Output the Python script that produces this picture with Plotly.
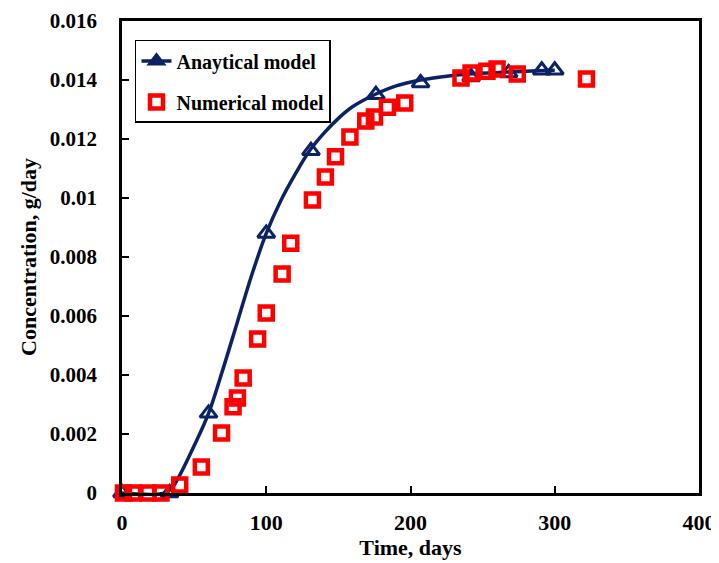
import plotly.graph_objects as go

# Analytical model: smooth curve and triangle markers
curve_t = [0, 30, 35, 40, 50, 60, 70, 80, 90, 100, 110, 120, 130, 140, 150, 160, 175, 190, 207, 225, 240, 260, 280, 300]
curve_c = [0, 0, 0.0002, 0.0006, 0.0016, 0.0027, 0.0042, 0.0058, 0.0074, 0.0088, 0.0099, 0.0108, 0.0116, 0.0122,
           0.0127, 0.0131, 0.0135, 0.0138, 0.0140, 0.01413, 0.0142, 0.01425, 0.0143, 0.01433]

anal_t = [0, 33, 60, 100, 131, 176, 207, 242, 268, 291, 300]
anal_c = [0, 0, 0.0027, 0.0088, 0.0116, 0.0135, 0.0139, 0.0141, 0.01424, 0.01433, 0.01433]

# Numerical model
num_t = [1, 8, 18, 27, 40, 55, 69, 77, 80, 84, 94, 100, 111, 117, 132, 141, 148, 158, 169, 175, 184, 196,
         235, 242, 253, 260, 274, 322]
num_c = [0, 0, 0, 0, 0.00027, 0.00088, 0.00203, 0.00292, 0.00322, 0.0039, 0.00522, 0.0061, 0.00742, 0.00847,
         0.00993, 0.01071, 0.0114, 0.01207, 0.01261, 0.01275, 0.01308, 0.01322, 0.01407, 0.01424, 0.0143,
         0.01437, 0.0142, 0.01403]

x_ticks = [0, 100, 200, 300, 400]
y_ticks = [0, 0.002, 0.004, 0.006, 0.008, 0.01, 0.012, 0.014, 0.016]
y_tick_text = ["0", "0.002", "0.004", "0.006", "0.008", "0.01", "0.012", "0.014", "0.016"]

NAVY = "#0b2265"
RED = "#ff0000"
FONT = "Liberation Serif"

fig = go.Figure()

fig.add_trace(go.Scatter(
    x=curve_t, y=curve_c, mode="lines", line=dict(color=NAVY, width=3.5, shape="spline"),
    showlegend=False, cliponaxis=False, hoverinfo="skip"))

fig.add_trace(go.Scatter(
    x=anal_t, y=anal_c, mode="markers",
    marker=dict(symbol="triangle-up-open", size=15, color=NAVY, line=dict(color=NAVY, width=3)),
    showlegend=False, cliponaxis=False))

# legend entry for the analytical model (line + triangle)
fig.add_trace(go.Scatter(
    x=[None], y=[None], mode="lines+markers", name="Anaytical model", legendgroup="a",
    line=dict(color=NAVY, width=3.5),
    marker=dict(symbol="triangle-up", size=14, color=NAVY, line=dict(color=NAVY, width=2))))

fig.add_trace(go.Scatter(
    x=num_t, y=num_c, mode="markers", name="Numerical model", legendgroup="b",
    marker=dict(symbol="square-open", size=13, color=RED, line=dict(color=RED, width=4.5)),
    cliponaxis=False))

axis_common = dict(
    showline=True, linecolor="black", linewidth=2.5, mirror=True,
    ticks="inside", ticklen=7, tickwidth=1.5, tickcolor="black",
    showgrid=False, zeroline=False, automargin=False, ticklabeloverflow="allow",
)

# the page body adds an 8px offset, so the figure is 8px smaller than the window
fig.update_layout(
    width=711, height=555,
    margin=dict(l=114, r=20, t=13, b=70),
    paper_bgcolor="white", plot_bgcolor="white",
    font=dict(family=FONT, color="black"),
    xaxis=dict(range=[0, 400], tickvals=x_ticks, ticklabelstandoff=8,
               tickfont=dict(family=FONT, size=22, weight="bold"),
               title=dict(text="Time, days", font=dict(family=FONT, size=22, weight="bold"), standoff=0),
               **axis_common),
    yaxis=dict(range=[0, 0.016], tickvals=y_ticks, ticktext=y_tick_text, ticklabelstandoff=18,
               tickfont=dict(family=FONT, size=21, weight="bold"),
               title=dict(text="Concentration, g/day", font=dict(family=FONT, size=22, weight="bold"), standoff=8),
               **axis_common),
    legend=dict(x=0.0225, y=0.96, xanchor="left", yanchor="top",
                bgcolor="white", bordercolor="black", borderwidth=1.5,
                font=dict(family=FONT, size=20, weight="bold"),
                tracegroupgap=12, traceorder="grouped", itemwidth=30),
)

fig.write_html("out.html")
